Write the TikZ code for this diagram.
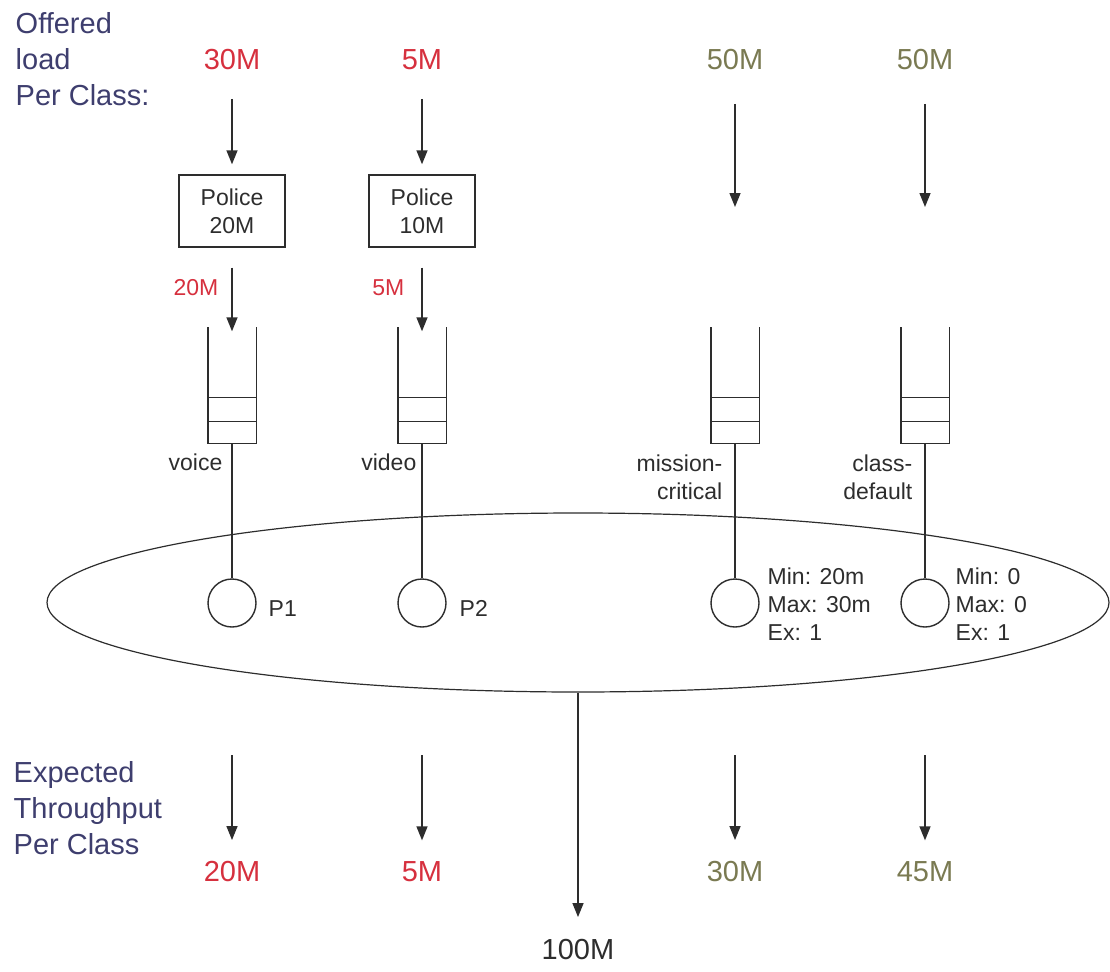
\documentclass[tikz,border=0pt]{standalone}
\usepackage{fontspec}
\setmainfont{Liberation Sans}
\usetikzlibrary{arrows.meta,positioning,shapes.geometric}
\definecolor{ink}{RGB}{45,45,45}
\definecolor{navy}{RGB}{62,62,110}
\definecolor{hot}{RGB}{214,48,62}
\definecolor{olive}{RGB}{122,122,82}
\tikzset{
  every picture/.style={color=ink, line width=1.4pt},
  big/.style={font=\fontsize{29}{36}\selectfont, inner sep=0pt},
  small/.style={font=\fontsize{23}{28}\selectfont, inner sep=0pt},
  head/.style={big, text=navy, align=left, anchor=north west},
  cut/.style={small, text=hot, anchor=east},
  policer/.style={draw, small, minimum width=106pt, minimum height=72pt, align=center},
  queue/.style={minimum width=47pt, minimum height=115pt, inner sep=0pt},
  sched/.style={draw, circle, minimum size=48pt, inner sep=0pt},
  tag/.style={small, align=right},
  flow/.style={-{Triangle[length=14pt,width=11pt]}, line width=1.4pt},
}

\begin{document}
\begin{tikzpicture}[x=1pt, y=-1pt]
  \useasboundingbox (0,0) rectangle (1110,971);
  % offered load on top, policers on the two priority classes
  \node[head] (offer) at (15,12) {Offered\\load\\Per Class:};
  \foreach \i/\x/\t/\c in {1/232/30M/hot,2/422/5M/hot,3/735/50M/olive,4/925/50M/olive} { \node[big, text=\c, anchor=base] (off\i) at (\x,70) {\t}; }
  \node[policer] (pol1) at (232,211) {Police\\20M};
  \node[policer] (pol2) at (422,211) {Police\\10M};
  \foreach \i in {1,2} { \draw[flow, shorten <=28pt, shorten >=10pt] (off\i) -- (pol\i); }
  \foreach \i in {3,4} { \coordinate (drop\i) at (off\i |- 0,207); \draw[flow, shorten <=33pt] (off\i) -- (drop\i); }
  \node[cut] (cut1) at (219,288) {20M};
  \node[cut] (cut2) at (405,288) {5M};
  % queues and their schedulers inside the link
  \foreach \i/\x in {1/232,2/422,3/735,4/925} {
    \node[queue] (q\i) at (\x,385.5) {};
    \draw (q\i.north west) |- (q\i.south east) -- (q\i.north east);
    \draw ([yshift=22pt]q\i.south west) -- ([yshift=22pt]q\i.south east);
    \draw ([yshift=46pt]q\i.south west) -- ([yshift=46pt]q\i.south east);
    \node[sched] (c\i) at (\x,603) {};
    \draw (q\i.south) -- (c\i.north);
  }
  \foreach \i in {1,2} { \draw[flow, shorten <=20pt, shorten >=-4pt] (pol\i) -- (q\i); }
  \node[tag, anchor=base east] (tag1) at (223,470) {voice};
  \node[tag, anchor=base east] (tag2) at (417,470) {video};
  \node[tag, anchor=north east] (tag3) at (723,454) {mission-\\critical};
  \node[tag, anchor=north east] (tag4) at (913,454) {class-\\default};
  \node[small, anchor=base west] (p1) at (268,616) {P1};
  \node[small, anchor=base west] (p2) at (459,616) {P2};
  \node[small, align=left, anchor=north west] (w3) at (767,567) {Min: 20m\\Max: 30m\\Ex: 1};
  \node[small, align=left, anchor=north west] (w4) at (955,567) {Min: 0\\Max: 0\\Ex: 1};
  \node[draw, ellipse, minimum width=1062pt, minimum height=179pt, inner sep=0pt, line width=1.2pt] (link) at (578,602.5) {};
  % what comes out
  \node[head] (expect) at (13,761) {Expected\\Throughput\\Per Class};
  \foreach \i/\x/\t/\c in {1/232/20M/hot,2/422/5M/hot,3/735/30M/olive,4/925/45M/olive} {
    \coordinate (src\i) at (\x,755);
    \node[big, text=\c, anchor=base] (out\i) at (\x,881) {\t};
    \draw[flow, shorten >=20pt] (src\i) -- (out\i);
  }
  \node[big, anchor=base] (total) at (578,959) {100M};
  \draw[flow, shorten >=21pt] (link) -- (total);
\end{tikzpicture}
\end{document}
